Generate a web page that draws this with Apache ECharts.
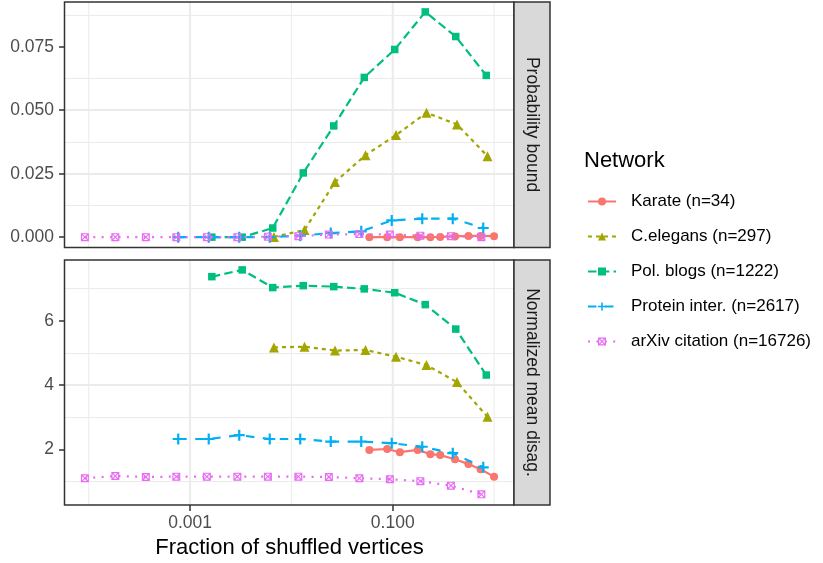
<!DOCTYPE html>
<html>
<head>
<meta charset="utf-8">
<script src="https://cdn.jsdelivr.net/npm/echarts@6/dist/echarts.min.js"></script>
<style>html,body{margin:0;padding:0;background:#fff;}#chart{width:823px;height:563px;}</style>
</head>
<body>
<div id="chart"></div>
<script>
// ---------- data ----------
const seriesNames = ['Karate (n=34)', 'C.elegans (n=297)', 'Pol. blogs (n=1222)', 'Protein inter. (n=2617)', 'arXiv citation (n=16726)'];

const fracKarate   = [0.0588, 0.0882, 0.1176, 0.1765, 0.2353, 0.2941, 0.4118, 0.5588, 0.7353, 1.0];
const probKarate   = [0, 0, 0, 0, 0, 0.0001, 0.0003, 0.0005, 0.0005, 0.0004];
const disagKarate  = [1.98, 2.01, 1.91, 1.98, 1.85, 1.82, 1.69, 1.54, 1.38, 1.15];

const fracCelegans  = [0.00673, 0.01347, 0.02694, 0.05387, 0.10774, 0.21549, 0.43098, 0.86195];
const probCelegans  = [0.0001, 0.0028, 0.0217, 0.0323, 0.0402, 0.0490, 0.0444, 0.0319];
const disagCelegans = [5.17, 5.19, 5.07, 5.09, 4.88, 4.62, 4.09, 3.01];

const fracPolblogs  = [0.00164, 0.00327, 0.00655, 0.0131, 0.0262, 0.0524, 0.1047, 0.2095, 0.4190, 0.8380];
const probPolblogs  = [0, 0, 0.0036, 0.0253, 0.0438, 0.0629, 0.0739, 0.0887, 0.0790, 0.0637];
const disagPolblogs = [7.37, 7.58, 7.03, 7.09, 7.06, 6.99, 6.87, 6.50, 5.74, 4.31];

const fracProtein  = [0.000764, 0.001528, 0.003057, 0.006114, 0.012228, 0.024456, 0.048911, 0.097822, 0.195644, 0.391288, 0.782576];
const probProtein  = [0, 0, 0, 0, 0.0006, 0.0016, 0.0023, 0.0066, 0.0073, 0.0073, 0.0036];
const disagProtein = [2.32, 2.32, 2.44, 2.32, 2.32, 2.24, 2.24, 2.19, 2.08, 1.88, 1.44];

const fracArxiv  = [0.0000916, 0.000183, 0.000366, 0.000732, 0.001465, 0.00293, 0.00586, 0.01172, 0.02344, 0.046875, 0.09375, 0.1875, 0.375, 0.75];
const probArxiv  = [0, 0, 0, 0, 0, 0, 0.0002, 0.0004, 0.0010, 0.0012, 0.0010, 0.0006, 0.0004, 0];
const disagArxiv = [1.10, 1.17, 1.14, 1.15, 1.15, 1.15, 1.15, 1.15, 1.14, 1.10, 1.07, 1.01, 0.87, 0.60];

const xMajorTicks = [0.001, 0.1];
const xMinorLines = [0.0001, 0.01, 1];
const yTopTicks = [0, 0.025, 0.05, 0.075];
const yBottomTicks = [2, 4, 6];

// axis ranges
const xRange = [5.83e-5, 1.574];
const yTopRange = [-0.00407, 0.0926];
const yBottomRange = [0.268, 7.888];

// ---------- styling ----------
const FONT = 'Liberation Sans, Arial, Helvetica, sans-serif';
const colors = ['#F8766D', '#A3A500', '#00BF7D', '#00B0F6', '#E76BF3'];
const PLUS = 'path://M4,0 L6,0 L6,4 L10,4 L10,6 L6,6 L6,10 L4,10 L4,6 L0,6 L0,4 L4,4 Z';
const SQCROSS = 'path://M0,0 L10,0 L10,10 L0,10 Z M1.5,1.5 L1.5,8.5 L8.5,8.5 L8.5,1.5 Z M2,1 L9,8 L8,9 L1,2 Z M8,1 L9,2 L2,9 L1,8 Z';
const symbols = ['circle', 'triangle', 'rect', PLUS, SQCROSS];
const symbolSizes = [8, 10, 7.5, 11, 8];
const dashes = ['solid', [4, 4], [8.5, 4.3], [8.5, 8.5], [2, 6.4]];

const fracs = [fracKarate, fracCelegans, fracPolblogs, fracProtein, fracArxiv];
const probs = [probKarate, probCelegans, probPolblogs, probProtein, probArxiv];
const disags = [disagKarate, disagCelegans, disagPolblogs, disagProtein, disagArxiv];

function zip(xs, ys) { return xs.map((x, i) => [x, ys[i]]); }

const series = [];
// vertical gridlines on the log x axis (drawn under data)
[0, 1].forEach(k => {
  const yr = k === 0 ? yTopRange : yBottomRange;
  xMinorLines.concat(xMajorTicks).forEach(v => {
    const major = xMajorTicks.indexOf(v) >= 0;
    series.push({
      type: 'line', name: 'vgrid', xAxisIndex: k, yAxisIndex: k, z: 1, silent: true,
      data: [[v, yr[0]], [v, yr[1]]], showSymbol: false, symbol: 'none',
      lineStyle: { color: '#EBEBEB', width: major ? 2 : 1, type: 'solid' },
      emphasis: { disabled: true }, tooltip: { show: false }
    });
  });
});
for (let k = 0; k < 2; k++) {
  for (let i = 0; i < 5; i++) {
    series.push({
      type: 'line', name: seriesNames[i], xAxisIndex: k, yAxisIndex: k,
      data: zip(fracs[i], k === 0 ? probs[i] : disags[i]),
      symbol: symbols[i], symbolSize: symbolSizes[i], showSymbol: true,
      itemStyle: { color: colors[i] },
      lineStyle: { color: colors[i], width: 2.2, type: dashes[i], cap: 'butt' },
      z: 2 + i * 0.01
    });
  }
}

const xCommon = {
  type: 'log', logBase: 10, min: xRange[0], max: xRange[1],
  axisLine: { show: false },
  splitLine: { show: false },
};
const tickStyle = { show: true, length: 6, lineStyle: { color: '#333333', width: 1.5 } };

const option = {
  animation: false,
  backgroundColor: '#ffffff',
  textStyle: { fontFamily: FONT },
  grid: [
    { left: 65, top: 2, width: 449, height: 245.5 },
    { left: 65, top: 260, width: 449, height: 245 }
  ],
  xAxis: [
    Object.assign({}, xCommon, { gridIndex: 0, axisTick: { show: false }, axisLabel: { show: false } }),
    Object.assign({}, xCommon, {
      gridIndex: 1,
      axisTick: Object.assign({}, tickStyle, { customValues: xMajorTicks }),
      axisLabel: {
        customValues: xMajorTicks,
        color: '#4D4D4D', fontSize: 17.5, fontFamily: FONT, margin: 9,
        formatter: v => (Math.abs(v - 0.001) < 1e-7 ? '0.001' : (Math.abs(v - 0.1) < 1e-5 ? '0.100' : ''))
      }
    })
  ],
  yAxis: [
    {
      gridIndex: 0, type: 'value', min: yTopRange[0], max: yTopRange[1], minInterval: 0.025, maxInterval: 0.025,
      axisLine: { show: false },
      splitLine: { show: true, showMinLine: false, showMaxLine: false, lineStyle: { color: '#EBEBEB', width: 2 } },
      minorTick: { show: false, splitNumber: 2 },
      minorSplitLine: { show: true, lineStyle: { color: '#EBEBEB', width: 1 } },
      axisTick: Object.assign({}, tickStyle, { customValues: yTopTicks }),
      axisLabel: { customValues: yTopTicks, color: '#4D4D4D', fontSize: 17.5, fontFamily: FONT, margin: 11,
        formatter: v => v.toFixed(3) }
    },
    {
      gridIndex: 1, type: 'value', min: yBottomRange[0], max: yBottomRange[1], minInterval: 2, maxInterval: 2,
      axisLine: { show: false },
      splitLine: { show: true, showMinLine: false, showMaxLine: false, lineStyle: { color: '#EBEBEB', width: 2 } },
      minorTick: { show: false, splitNumber: 2 },
      minorSplitLine: { show: true, lineStyle: { color: '#EBEBEB', width: 1 } },
      axisTick: Object.assign({}, tickStyle, { customValues: yBottomTicks }),
      axisLabel: { customValues: yBottomTicks, color: '#4D4D4D', fontSize: 17.5, fontFamily: FONT, margin: 11,
        formatter: v => String(Math.round(v)) }
    }
  ],
  legend: {
    data: seriesNames, orient: 'vertical', left: 587, top: 193, padding: 0,
    itemWidth: 28, itemHeight: 10, itemGap: 18,
    textStyle: { fontSize: 17, color: '#000000', fontFamily: FONT, padding: [0, 0, 0, 10] }
  },
  graphic: [
    { type: 'rect', z: 100, silent: true, shape: { x: 64.5, y: 2, width: 449.5, height: 245.5 }, style: { fill: 'none', stroke: '#333333', lineWidth: 1.5 } },
    { type: 'rect', z: 100, silent: true, shape: { x: 64.5, y: 260, width: 449.5, height: 245 }, style: { fill: 'none', stroke: '#333333', lineWidth: 1.5 } },
    { type: 'rect', z: 100, silent: true, shape: { x: 514, y: 2, width: 36, height: 245.5 }, style: { fill: '#D9D9D9', stroke: '#333333', lineWidth: 1.5 } },
    { type: 'rect', z: 100, silent: true, shape: { x: 514, y: 260, width: 36, height: 245 }, style: { fill: '#D9D9D9', stroke: '#333333', lineWidth: 1.5 } },
    { type: 'text', z: 101, silent: true, x: 532, y: 124.5, rotation: -Math.PI / 2,
      style: { text: 'Probability bound', fill: '#1A1A1A', fontSize: 17.5, fontFamily: FONT, align: 'center', verticalAlign: 'middle' } },
    { type: 'text', z: 101, silent: true, x: 532, y: 382.5, rotation: -Math.PI / 2,
      style: { text: 'Normalized mean disag.', fill: '#1A1A1A', fontSize: 17.5, fontFamily: FONT, align: 'center', verticalAlign: 'middle' } },
    { type: 'text', z: 101, silent: true, x: 584, y: 161,
      style: { text: 'Network', fill: '#000000', fontSize: 22, fontFamily: FONT, align: 'left', verticalAlign: 'middle' } },
    { type: 'text', z: 101, silent: true, x: 289.5, y: 548,
      style: { text: 'Fraction of shuffled vertices', fill: '#000000', fontSize: 22, fontFamily: FONT, align: 'center', verticalAlign: 'middle' } }
  ],
  series: series
};

const chart = echarts.init(document.getElementById('chart'), null, { renderer: 'canvas' });
chart.setOption(option);
</script>
</body>
</html>
